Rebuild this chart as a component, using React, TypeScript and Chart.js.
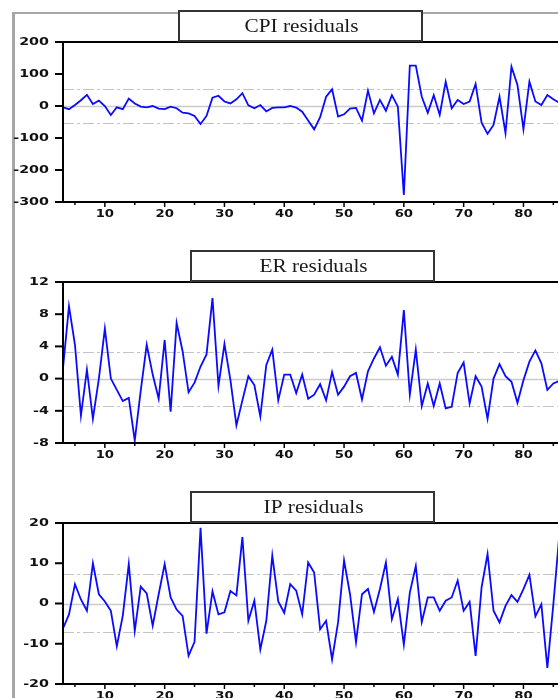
import { useEffect, useRef } from "react";
import { Chart, registerables } from "chart.js";

Chart.register(...registerables);

// Observation numbers shared by the three residual series
const obs = [
  3, 4, 5, 6, 7, 8, 9, 10, 11, 12, 13, 14, 15, 16, 17, 18, 19, 20, 21, 22,
  23, 24, 25, 26, 27, 28, 29, 30, 31, 32, 33, 34, 35, 36, 37, 38, 39, 40, 41, 42,
  43, 44, 45, 46, 47, 48, 49, 50, 51, 52, 53, 54, 55, 56, 57, 58, 59, 60, 61, 62,
  63, 64, 65, 66, 67, 68, 69, 70, 71, 72, 73, 74, 75, 76, 77, 78, 79, 80, 81, 82,
  83, 84, 85, 86,
];

const cpiResiduals = [
  -4, -10, 3, 18, 35, 6, 17, 0, -28, -4, -10, 23, 8, -2, -4, 0, -8, -10, -2, -7,
  -21, -23, -31, -56, -31, 26, 32, 14, 8, 21, 40, 2, -7, 3, -17, -6, -4, -4, 0, -5,
  -18, -45, -73, -35, 29, 52, -33, -26, -8, -6, -46, 48, -23, 19, -15, 34, -2, -278, 126, 126,
  29, -21, 34, -28, 76, -7, 19, 6, 14, 69, -52, -87, -59, 29, -85, 123, 66, -73, 76, 14,
  3, 34, 21, 10,
];

const erResiduals = [
  1.3, 9.0, 4.2, -4.6, 1.1, -5.0, 0.0, 6.2, 0.0, -1.4, -2.8, -2.4, -7.7, -1.5, 4.2, 0.5, -2.5, 4.8, -4.1, 6.9,
  3.4, -1.7, -0.5, 1.5, 3.0, 10.0, -0.9, 4.3, -0.2, -5.8, -2.7, 0.3, -0.8, -4.7, 1.7, 3.6, -2.7, 0.5, 0.5, -1.8,
  0.5, -2.5, -2.0, -0.7, -2.7, 0.8, -2.0, -1.0, 0.3, 0.7, -2.6, 0.9, 2.5, 3.9, 1.6, 2.7, 0.5, 8.5, -2.0, 3.6,
  -3.4, -0.6, -3.4, -0.6, -3.7, -3.5, 0.7, 2.0, -3.1, 0.3, -1.0, -5.0, 0.0, 1.8, 0.3, -0.4, -3.0, -0.2, 2.1, 3.5,
  1.9, -1.4, -0.6, -0.3,
];

const ipResiduals = [
  -6.2, -2.7, 4.8, 1.0, -1.8, 10.0, 2.3, 0.5, -1.8, -10.6, -3.0, 9.8, -6.8, 4.2, 2.5, -5.5, 2.3, 9.8, 1.5, -1.5,
  -3.1, -13.0, -9.5, 18.8, -7.5, 3.0, -2.7, -2.2, 3.1, 2.0, 16.5, -4.3, 0.7, -11.4, -4.3, 11.9, 0.5, -2.3, 4.8, 3.2,
  -2.7, 10.2, 7.7, -6.4, -4.3, -13.9, -4.7, 10.7, 2.3, -9.6, 2.3, 3.6, -2.1, 3.6, 10.2, -3.9, 1.1, -10.2, 2.7, 9.3,
  -4.6, 1.5, 1.5, -1.8, 0.7, 1.5, 5.7, -1.8, 0.4, -13.0, 4.0, 12.3, -1.8, -4.7, -0.6, 2.1, 0.4, 3.6, 7.1, -3.2,
  -0.2, -16.0, -0.2, 17.0,
];

// Two-standard-error bands drawn as dashed lines
const cpiBand = [52, -54];
const erBand = [3.3, -3.4];
const ipBand = [7.3, -7.2];

// Axis ticks
const cpiTicks = [200, 100, 0, -100, -200, -300];
const erTicks = [12, 8, 4, 0, -4, -8];
const ipTicks = [20, 10, 0, -10, -20];
const xMajorTicks = [10, 20, 30, 40, 50, 60, 70, 80];
const xMinorTicks = [5, 15, 25, 35, 45, 55, 65, 75, 85];

const X_MIN = 3;
const X_MAX = 85.78;

type Panel = {
  title: string;
  values: number[];
  band: number[];
  ticks: number[];
  top: number;
  height: number;
  plotTop: number;
  plotBottom: number;
  boxLeft: number;
};

const panels: Panel[] = [
  { title: "CPI residuals", values: cpiResiduals, band: cpiBand, ticks: cpiTicks, top: 0, height: 240, plotTop: 42, plotBottom: 202, boxLeft: 179 },
  { title: "ER residuals", values: erResiduals, band: erBand, ticks: erTicks, top: 240, height: 240, plotTop: 42, plotBottom: 203, boxLeft: 191 },
  { title: "IP residuals", values: ipResiduals, band: ipBand, ticks: ipTicks, top: 480, height: 218, plotTop: 43, plotBottom: 204, boxLeft: 191 },
];

const PLOT_LEFT = 63;
const BOX_WIDTH = 243;

function makeDecor(panel: Panel) {
  return {
    id: "panelDecor",
    beforeDatasetsDraw(chart: any) {
      const { ctx, chartArea: a, scales } = chart;
      const y = scales.y;
      ctx.save();
      // zero line
      ctx.strokeStyle = "#cbcbcb";
      ctx.lineWidth = 1.5;
      const y0 = Math.round(y.getPixelForValue(0)) + 0.5;
      ctx.beginPath();
      ctx.moveTo(a.left, y0);
      ctx.lineTo(a.right, y0);
      ctx.stroke();
      // band lines
      ctx.strokeStyle = "#c4c4c4";
      ctx.lineWidth = 1;
      ctx.setLineDash([11, 3, 3, 3]);
      for (const b of panel.band) {
        const py = Math.round(y.getPixelForValue(b)) + 0.5;
        ctx.beginPath();
        ctx.moveTo(a.left, py);
        ctx.lineTo(a.right, py);
        ctx.stroke();
      }
      ctx.restore();
    },
    afterDraw(chart: any) {
      const { ctx, chartArea: a, scales } = chart;
      const x = scales.x;
      const y = scales.y;
      ctx.save();
      ctx.strokeStyle = "#000";
      ctx.lineWidth = 2;
      // plot frame: top, left, bottom
      ctx.beginPath();
      ctx.moveTo(a.right, a.top);
      ctx.lineTo(a.left, a.top);
      ctx.lineTo(a.left, a.bottom);
      ctx.lineTo(a.right, a.bottom);
      ctx.stroke();

      // y ticks and labels
      ctx.fillStyle = "#111";
      ctx.font = 'bold 11px "DejaVu Sans"';
      ctx.textAlign = "right";
      ctx.textBaseline = "middle";
      for (const t of panel.ticks) {
        const py = y.getPixelForValue(t);
        ctx.beginPath();
        ctx.moveTo(a.left - 8, py);
        ctx.lineTo(a.left, py);
        ctx.stroke();
        ctx.save();
        ctx.translate(a.left - 14, py);
        ctx.scale(1.3, 1);
        ctx.fillText(String(t), 0, 0);
        ctx.restore();
      }

      // x ticks and labels
      ctx.lineWidth = 1.5;
      for (const t of xMinorTicks) {
        const px = x.getPixelForValue(t);
        ctx.beginPath();
        ctx.moveTo(px, a.bottom);
        ctx.lineTo(px, a.bottom + 3);
        ctx.stroke();
      }
      ctx.textAlign = "center";
      ctx.textBaseline = "top";
      for (const t of xMajorTicks) {
        const px = x.getPixelForValue(t);
        ctx.beginPath();
        ctx.moveTo(px, a.bottom);
        ctx.lineTo(px, a.bottom + 5);
        ctx.stroke();
        ctx.save();
        ctx.translate(px, a.bottom + 7);
        ctx.scale(1.2, 1);
        ctx.fillText(String(t), 0, 0);
        ctx.restore();
      }

      // title box
      const bTop = a.top - 31;
      const bH = 30;
      ctx.fillStyle = "#fff";
      ctx.fillRect(panel.boxLeft, bTop, BOX_WIDTH, bH);
      ctx.strokeStyle = "#333";
      ctx.lineWidth = 2;
      ctx.strokeRect(panel.boxLeft, bTop, BOX_WIDTH, bH);
      ctx.fillStyle = "#1a1a1a";
      ctx.font = '19px "Liberation Serif"';
      ctx.textAlign = "center";
      ctx.textBaseline = "alphabetic";
      ctx.save();
      ctx.translate(panel.boxLeft + BOX_WIDTH / 2 + 1, bTop + bH - 9);
      ctx.scale(1.12, 1);
      ctx.fillText(panel.title, 0, 0);
      ctx.restore();
      ctx.restore();
    },
  };
}

function ResidualPanel({ panel }: { panel: Panel }) {
  const ref = useRef<HTMLCanvasElement | null>(null);
  useEffect(() => {
    if (!ref.current) return;
    const lo = Math.min(...panel.ticks);
    const hi = Math.max(...panel.ticks);
    const chart = new Chart(ref.current, {
      type: "line",
      data: {
        datasets: [
          {
            data: obs.map((o, i) => ({ x: o, y: panel.values[i] })),
            borderColor: "#0a0aff",
            borderWidth: 1.8,
            pointRadius: 0,
            tension: 0,
            fill: false,
          },
        ],
      },
      options: {
        responsive: false,
        animation: false,
        devicePixelRatio: 1,
        layout: {
          padding: {
            left: PLOT_LEFT,
            top: panel.plotTop,
            right: 0,
            bottom: panel.height - panel.plotBottom,
          },
        },
        scales: {
          x: { type: "linear", min: X_MIN, max: X_MAX, display: false },
          y: { type: "linear", min: lo, max: hi, display: false },
        },
        plugins: {
          legend: { display: false },
          tooltip: { enabled: false },
        },
      },
      plugins: [makeDecor(panel)],
    });
    return () => chart.destroy();
  }, [panel]);
  return (
    <canvas
      ref={ref}
      width={558}
      height={panel.height}
      style={{ position: "absolute", left: 0, top: panel.top, width: 558, height: panel.height }}
    />
  );
}

export default function App() {
  return (
    <div
      style={{
        position: "fixed",
        left: 0,
        top: 0,
        width: 558,
        height: 698,
        overflow: "hidden",
        background: "#fff",
      }}
    >
      {/* outer figure frame */}
      <div style={{ position: "absolute", left: 12, top: 12, width: 3, height: 686, background: "#a6a6a6" }} />
      <div style={{ position: "absolute", left: 12, top: 12, width: 546, height: 2, background: "#a6a6a6" }} />
      {panels.map((p) => (
        <ResidualPanel key={p.title} panel={p} />
      ))}
    </div>
  );
}
